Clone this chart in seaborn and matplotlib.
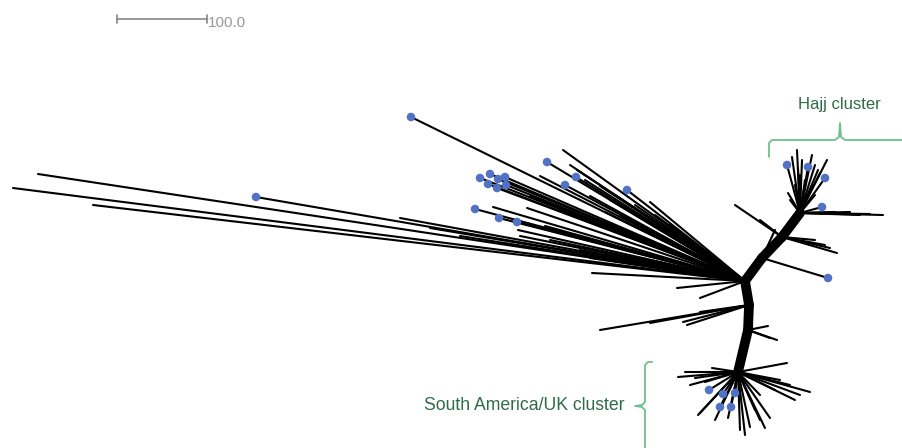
import pandas as pd
import matplotlib.pyplot as plt
import seaborn as sns

# layout of the split network (x to the right, y downward)
hub = (745, 281)
trunk_x = [745, 762, 782, 800]          # hub -> Hajj cluster
trunk_y = [281, 258, 237, 213]
down_x = [745, 749, 748, 738]           # hub -> South America/UK cluster
down_y = [281, 305, 330, 372]

# long branches to the far left
left_x = [38, 13, 93, 256, 400, 430, 460]
left_y = [174, 188, 205, 197, 218, 228, 236]

# upper-left fan
fan_x = [411, 563, 547, 576, 577, 565, 627, 650, 480, 490, 498, 505, 488, 497, 506,
         475, 493, 499, 517, 527, 518, 540, 600, 610, 560, 590, 530, 550, 580, 600,
         620, 640, 660, 590, 592, 677, 700, 520, 545, 585, 615, 635, 655, 670, 690,
         570, 605, 630]
fan_y = [117, 150, 162, 177, 170, 185, 190, 202, 178, 174, 179, 177, 184, 188, 185,
         209, 207, 218, 222, 208, 230, 176, 186, 200, 210, 196, 196, 240, 250, 242,
         215, 225, 235, 258, 273, 288, 298, 236, 226, 180, 195, 205, 215, 225, 240,
         165, 212, 250]

# short lines left of the down trunk
low_x = [600, 683, 687, 650, 700]
low_y = [330, 322, 325, 323, 312]

# Hajj cluster
hajj_x = [792, 802, 827, 820, 788, 787, 808, 825, 822, 883, 860, 797, 812, 815, 835,
          795, 805, 812, 800, 790, 815, 850, 870, 818, 798]
hajj_y = [157, 160, 160, 173, 193, 165, 167, 178, 207, 215, 215, 150, 155, 165, 212,
          185, 180, 185, 175, 200, 195, 212, 214, 170, 168]
side_x = [735, 837, 830, 828, 775, 825, 815, 760]
side_y = [205, 253, 248, 278, 230, 245, 240, 220]
side_from = [2, 2, 2, 1, 1, 2, 2, 2]

# South America/UK cluster
sa_x = [678, 698, 750, 770, 795, 810, 787, 700, 709, 723, 735, 720, 731, 690, 715,
        740, 760, 685, 728, 755, 780, 695, 705, 760, 775, 790, 800, 765, 745, 712]
sa_y = [377, 415, 427, 418, 400, 392, 363, 413, 390, 394, 393, 407, 407, 385, 420,
        430, 420, 372, 418, 410, 380, 378, 382, 395, 390, 385, 395, 428, 435, 368]
# short branches off the down trunk
branch_x = [777, 770, 768]
branch_y = [340, 338, 326]

dot_x = [411, 547, 576, 565, 627, 480, 490, 498, 505, 488, 497, 506, 475, 499, 517,
         256, 787, 808, 825, 822, 828, 709, 723, 735, 720, 731]
dot_y = [117, 162, 177, 185, 190, 178, 174, 179, 177, 184, 188, 185, 209, 218, 222,
         197, 165, 167, 178, 207, 278, 390, 394, 393, 407, 407]

rows = []
def edge(x0, y0, x1, y1, kind="thin"):
    n = len(rows) // 2
    rows.append({"edge": n, "x": x0, "y": y0, "kind": kind})
    rows.append({"edge": n, "x": x1, "y": y1, "kind": kind})

for x, y in zip(left_x, left_y):
    edge(x, y, *hub)
for x, y in zip(fan_x, fan_y):
    edge(x, y, *hub)
for x, y in zip(low_x, low_y):
    edge(x, y, down_x[1], down_y[1])
for x, y in zip(hajj_x, hajj_y):
    edge(x, y, trunk_x[3], trunk_y[3])
for x, y, k in zip(side_x, side_y, side_from):
    edge(x, y, trunk_x[k], trunk_y[k])
for x, y in zip(sa_x, sa_y):
    edge(x, y, down_x[3], down_y[3])
for x, y in zip(branch_x, branch_y):
    edge(x, y, down_x[2], down_y[2])
for i in range(3):
    edge(trunk_x[i], trunk_y[i], trunk_x[i + 1], trunk_y[i + 1], "thick")
    edge(down_x[i], down_y[i], down_x[i + 1], down_y[i + 1], "thick")

df = pd.DataFrame(rows)
dots = pd.DataFrame({"x": dot_x, "y": dot_y})

sns.set_style("white")
plt.rcParams["font.family"] = ["Liberation Sans", "DejaVu Sans"]

fig = plt.figure(figsize=(9.02, 4.48), dpi=100)
ax = fig.add_axes([0, 0, 1, 1])

sns.lineplot(data=df[df.kind == "thin"], x="x", y="y", units="edge", estimator=None,
             sort=False, color="black", lw=1.5, ax=ax)
sns.lineplot(data=df[df.kind == "thick"], x="x", y="y", units="edge", estimator=None,
             sort=False, color="black", lw=7, ax=ax)
sns.scatterplot(data=dots, x="x", y="y", color="#5272c6", s=38, edgecolor="none",
                zorder=5, ax=ax)

# scale bar
ax.plot([117, 207], [19, 19], color="#888888", lw=1.2)
ax.plot([117, 117], [15, 23], color="#888888", lw=1.2)
ax.plot([207, 207], [15, 23], color="#888888", lw=1.2)
ax.text(208, 23, "100.0", color="#999999", fontsize=11, va="center", ha="left")

# brackets
bc = "#6cc08b"
tc = "#2f6b4a"
ax.plot([769, 769, 772, 835, 839, 840, 841, 845, 908],
        [157, 143, 140, 140, 137, 123, 137, 140, 140], color=bc, lw=1.3)
ax.text(839, 104, "Hajj cluster", color=tc, fontsize=12, ha="center", va="center")
ax.plot([652, 648, 645, 645, 642, 635, 642, 645, 645],
        [362, 362, 365, 402, 405, 406, 407, 410, 460], color=bc, lw=1.3)
ax.text(625, 405, "South America/UK cluster", color=tc, fontsize=12.7, ha="right",
        va="center")

ax.set_xlim(0, 902)
ax.set_ylim(448, 0)
ax.axis("off")
fig.savefig("out.png", dpi=100)
